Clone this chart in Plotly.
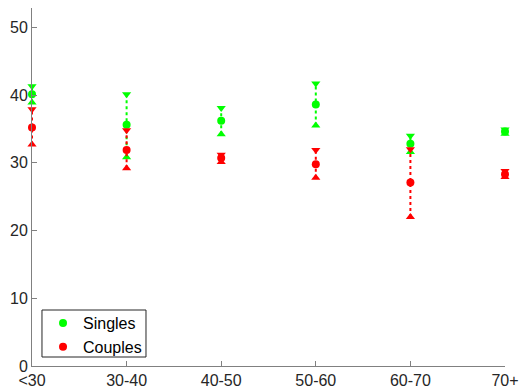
import plotly.graph_objects as go

categories = ["<30", "30-40", "40-50", "50-60", "60-70", "70+"]

singles_mean = [40.1, 35.6, 36.2, 38.6, 32.8, 34.6]
singles_low = [38.9, 30.8, 34.2, 35.5, 31.6, 34.3]
singles_high = [41.3, 40.1, 38.1, 41.7, 34.0, 34.9]

couples_mean = [35.2, 31.9, 30.7, 29.8, 27.1, 28.3]
couples_low = [32.7, 29.2, 30.1, 27.8, 22.0, 27.9]
couples_high = [37.9, 34.8, 31.2, 31.9, 32.0, 28.8]

y_ticks = [0, 10, 20, 30, 40, 50]

series = [
    ("Singles", "#00ff00", singles_mean, singles_low, singles_high),
    ("Couples", "#ff0000", couples_mean, couples_low, couples_high),
]

xpos = list(range(len(categories)))
fig = go.Figure()
FONT = "Liberation Sans, Arial, Helvetica, sans-serif"

for name, color, mean, low, high in series:
    lx, ly = [], []
    for i in xpos:
        lx += [i, i, None]
        ly += [low[i], high[i], None]
    fig.add_trace(go.Scatter(x=lx, y=ly, mode="lines", showlegend=False,
                             line=dict(color=color, width=2, dash="dot"),
                             hoverinfo="skip", cliponaxis=False))
    fig.add_trace(go.Scatter(x=xpos, y=low, mode="markers", showlegend=False,
                             cliponaxis=False,
                             marker=dict(symbol="triangle-up", size=8, color=color)))
    fig.add_trace(go.Scatter(x=xpos, y=high, mode="markers", showlegend=False,
                             cliponaxis=False,
                             marker=dict(symbol="triangle-down", size=8, color=color)))
    fig.add_trace(go.Scatter(x=xpos, y=mean, mode="markers", name=name,
                             cliponaxis=False,
                             marker=dict(symbol="circle", size=8, color=color)))

axis_color = "#262626"
fig.update_layout(
    width=520, height=392,
    margin=dict(l=32, r=15, t=8, b=26),
    paper_bgcolor="white", plot_bgcolor="white",
    font=dict(family=FONT, size=16, color=axis_color),
    showlegend=True,
    legend=dict(x=0.0233, y=0.0056, xanchor="left", yanchor="bottom",
                borderwidth=0, bgcolor="rgba(0,0,0,0)",
                font=dict(size=16, color="#000000"), itemwidth=30),
    shapes=[dict(type="rect", xref="paper", yref="paper",
                 x0=0.0211, x1=0.241, y0=0.0251, y1=0.1564,
                 line=dict(color=axis_color, width=1), fillcolor="white",
                 layer="above")],
    xaxis=dict(range=[0, 5], tickmode="array", tickvals=xpos, ticktext=categories,
               showgrid=False, zeroline=False, showline=True, linecolor="#808080",
               linewidth=1, ticks="inside", ticklen=5, tickcolor="#808080",
               automargin=False, fixedrange=True),
    yaxis=dict(range=[0, 52.85], tickmode="array", tickvals=y_ticks,
               showgrid=False, zeroline=False, showline=True, linecolor="#808080",
               linewidth=1, ticks="inside", ticklen=5, tickcolor="#808080",
               automargin=False, fixedrange=True),
)

fig.write_html("out.html", config={"displayModeBar": False},
               post_script="document.body.style.margin='0';")
